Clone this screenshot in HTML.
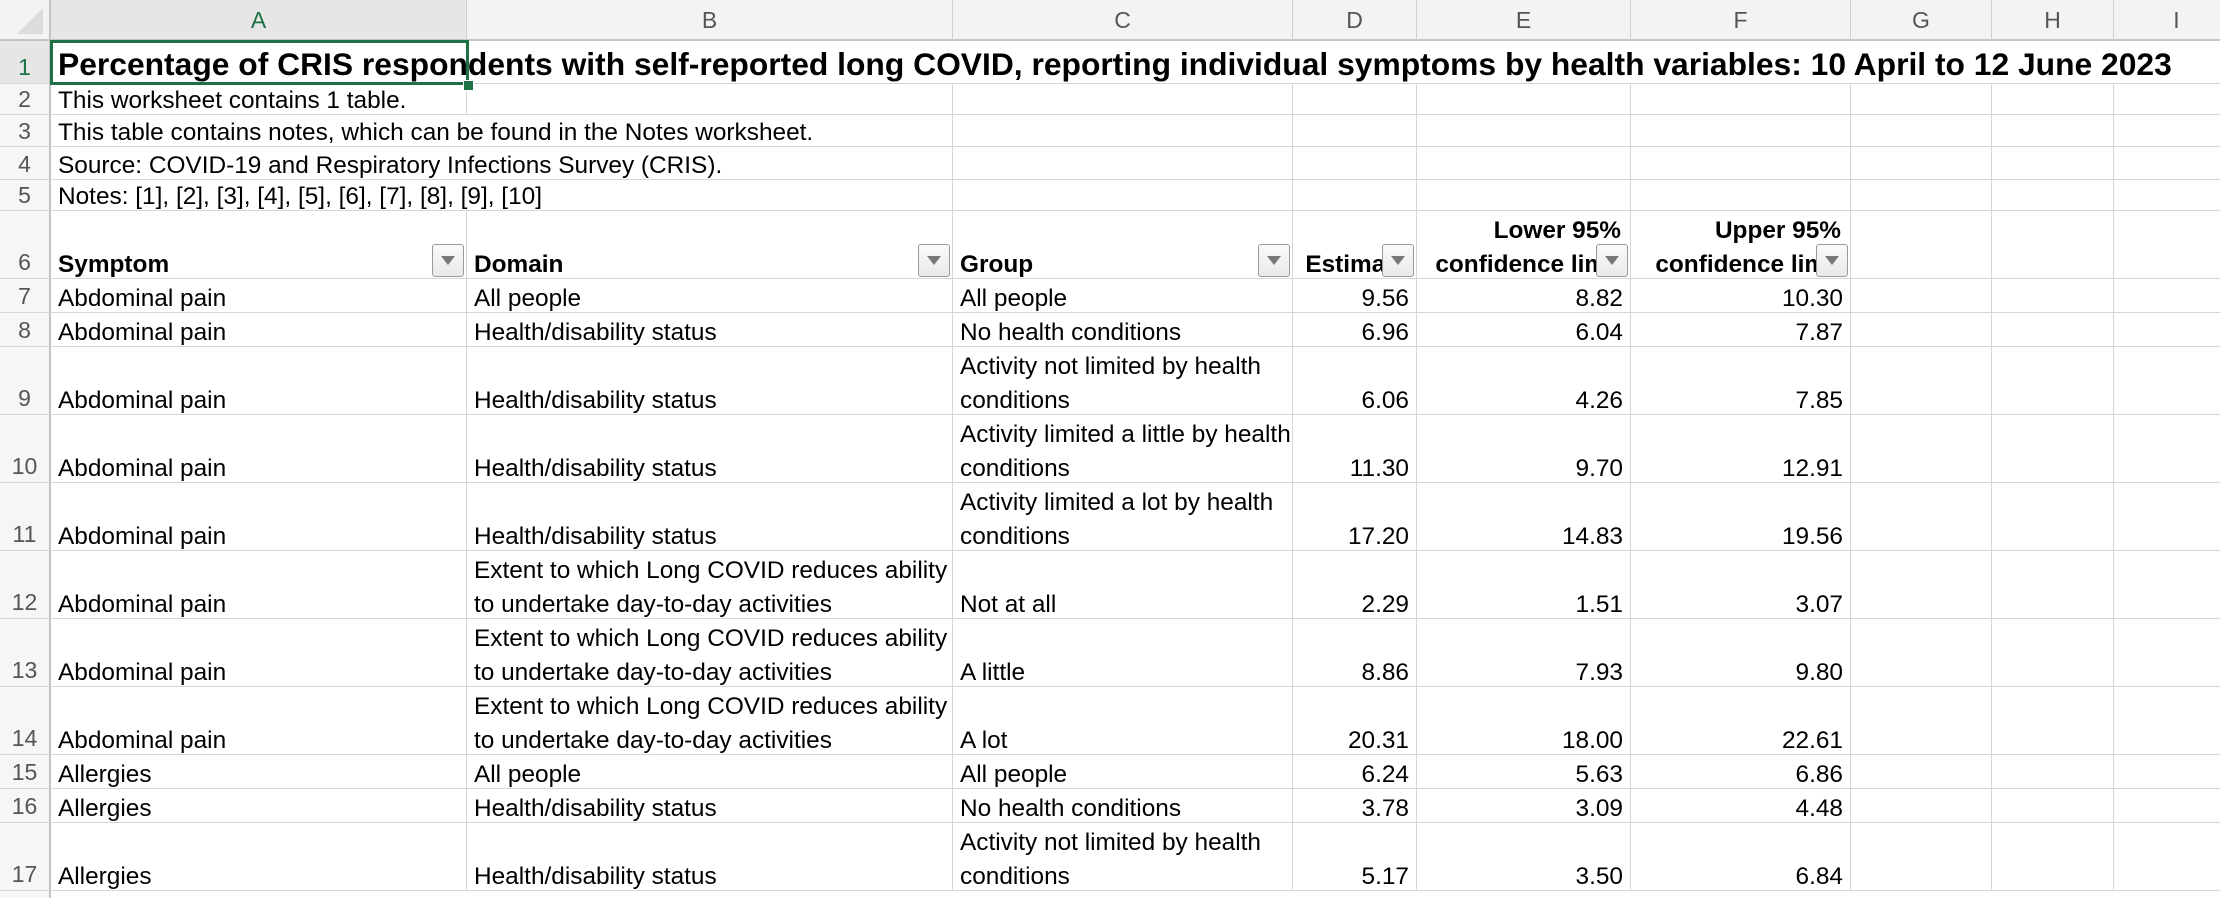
<!DOCTYPE html>
<html><head><meta charset="utf-8">
<style>
html,body{margin:0;padding:0;width:2220px;height:898px;overflow:hidden;background:#fff;font-family:"Liberation Sans",Arial,sans-serif;}
#sheet{position:relative;width:2220px;height:898px;overflow:hidden;}
.c{position:absolute;box-sizing:border-box;border-right:1px solid #d6d6d6;border-bottom:1px solid #d6d6d6;font-size:24.4px;color:#000;overflow:visible;white-space:nowrap;display:flex;flex-direction:column;justify-content:flex-end;padding:0 7px 0 7px;line-height:34px;}
.c>div{position:relative;top:4px;}
.r{align-items:flex-end;text-align:right;}
.b{font-weight:bold;}
.ch{position:absolute;top:0;height:41px;box-sizing:border-box;background:#f3f3f3;border-right:1px solid #d0d0d0;border-bottom:2px solid #c4c4c4;font-size:23px;color:#555;text-align:center;line-height:40px;}
.rh{position:absolute;left:0;width:51px;box-sizing:border-box;background:#f6f6f6;border-right:2px solid #c4c4c4;border-bottom:1px solid #d6d6d6;font-size:23px;color:#555;text-align:center;display:flex;flex-direction:column;justify-content:flex-end;padding-bottom:1px;line-height:30px;}
.fb{position:absolute;width:32px;height:33px;box-sizing:border-box;border:1px solid #9a9a9a;border-radius:3px;background:linear-gradient(#fafafa,#e9e9e9);}
.fb:after{content:"";position:absolute;left:8px;top:11px;border-left:7px solid transparent;border-right:7px solid transparent;border-top:9px solid #777;}
</style></head>
<body>
<div id="sheet"></div>
<script>
const colLetters=["A","B","C","D","E","F","G","H","I"];
const symptoms=["Abdominal pain","Abdominal pain","Abdominal pain","Abdominal pain","Abdominal pain","Abdominal pain","Abdominal pain","Abdominal pain","Allergies","Allergies","Allergies"];
const domains=["All people","Health/disability status","Health/disability status","Health/disability status","Health/disability status","Extent to which Long COVID reduces ability|to undertake day-to-day activities","Extent to which Long COVID reduces ability|to undertake day-to-day activities","Extent to which Long COVID reduces ability|to undertake day-to-day activities","All people","Health/disability status","Health/disability status"];
const groups=["All people","No health conditions","Activity not limited by health|conditions","Activity limited a little by health|conditions","Activity limited a lot by health|conditions","Not at all","A little","A lot","All people","No health conditions","Activity not limited by health|conditions"];
const estimates=["9.56","6.96","6.06","11.30","17.20","2.29","8.86","20.31","6.24","3.78","5.17"];
const lowerCI=["8.82","6.04","4.26","9.70","14.83","1.51","7.93","18.00","5.63","3.09","3.50"];
const upperCI=["10.30","7.87","7.85","12.91","19.56","3.07","9.80","22.61","6.86","4.48","6.84"];

const colX=[51,467,953,1293,1417,1631,1851,1992,2114,2240];
const rowY=[41,84,115,147,180,211,279,313,347,415,483,551,619,687,755,789,823,891,925];
const S=document.getElementById('sheet');

function cell(x1,x2,y1,y2,html,cls){
  const d=document.createElement('div');
  d.className='c '+(cls||'');
  d.style.left=x1+'px';d.style.width=(x2-x1)+'px';
  d.style.top=y1+'px';d.style.height=(y2-y1)+'px';
  d.innerHTML=html;
  S.appendChild(d);return d;
}
function lines(t){return t.split('|').map(s=>'<div>'+s+'</div>').join('');}

const corner=document.createElement('div');


corner.style.cssText='position:absolute;left:0;top:0;width:51px;height:41px;box-sizing:border-box;background:#f3f3f3;border-right:2px solid #c4c4c4;border-bottom:2px solid #c4c4c4;';
corner.innerHTML='<div style="position:absolute;right:6px;bottom:5px;width:0;height:0;border-left:26px solid transparent;border-bottom:26px solid #dcdcdc"></div>';
S.appendChild(corner);

for(let i=0;i<colLetters.length;i++){
  const h=document.createElement('div');
  h.className='ch';
  h.style.left=colX[i]+'px';h.style.width=(colX[i+1]-colX[i])+'px';
  h.textContent=colLetters[i];
  if(i===0){h.style.color='#1e7145';h.style.background='#e6e6e6';}
  
  
  S.appendChild(h);
}
for(let r=0;r<rowY.length-1;r++){
  const h=document.createElement('div');
  h.className='rh';
  h.style.top=rowY[r]+'px';h.style.height=(rowY[r+1]-rowY[r])+'px';
  h.textContent=(r<17)?String(r+1):'';
  if(r===0){h.style.color='#1e7145';h.style.background='#e6e6e6';}
  if(r>=1&&r<=4){h.style.paddingBottom='0px';}
  
  
  S.appendChild(h);
}

let t=cell(colX[0],colX[9],rowY[0],rowY[1],'<div>Percentage of CRIS respondents with self-reported long COVID, reporting individual symptoms by health variables: 10 April to 12 June 2023</div>','b');
t.style.fontSize='31.8px';t.style.paddingBottom='6px';t.style.borderRight='none';


const notes=["This worksheet contains 1 table.","This table contains notes, which can be found in the Notes worksheet.","Source: COVID-19 and Respiratory Infections Survey (CRIS).","Notes: [1], [2], [3], [4], [5], [6], [7], [8], [9], [10]"];
for(let k=0;k<4;k++){
  const r=k+1;
  const span=(k===0)?1:2;
  const n=cell(colX[0],colX[span],rowY[r],rowY[r+1],'<div>'+notes[k]+'</div>');
  n.style.lineHeight='30px';n.style.paddingBottom='2px';
  
  
  for(let c=span;c<9;c++){
    const e=cell(colX[c],colX[c+1],rowY[r],rowY[r+1],'');
    
    
  }
}
const heads=["Symptom","Domain","Group","Estimate","Lower 95%|confidence limit","Upper 95%|confidence limit"];
for(let c=0;c<9;c++){
  let html=c<6?lines(heads[c]):'';
  const h=cell(colX[c],colX[c+1],rowY[5],rowY[6],html,'b'+(c>=3?' r':''));
  h.style.overflow='hidden';
  h.style.paddingRight=(c>=3?'9px':'7px');
  
  
  if(c<6){
    const f=document.createElement('div');
    f.className='fb';
    f.style.left=(colX[c+1]-35)+'px';f.style.top='244px';
    
    
    S.appendChild(f);
  }
}
for(let i=0;i<symptoms.length;i++){
  const y1=rowY[6+i],y2=rowY[7+i];
  const vals=[symptoms[i],domains[i],groups[i],estimates[i],lowerCI[i],upperCI[i]];
  const names=['symptom-cell','domain-cell','group-cell','estimate-cell','lower-ci-cell','upper-ci-cell'];
  for(let c=0;c<9;c++){
    const d=cell(colX[c],colX[c+1],y1,y2,c<6?lines(vals[c]):'',c>=3&&c<6?'r':'');
    
    
  }
}
const sel=document.createElement('div');
sel.style.cssText='position:absolute;left:50px;top:40px;width:419px;height:45px;box-sizing:border-box;border:3px solid #1e7145;';


S.appendChild(sel);
const hd=document.createElement('div');
hd.style.cssText='position:absolute;left:463px;top:80px;width:9px;height:9px;background:#1e7145;border:1px solid #fff;';


S.appendChild(hd);
</script>
</body></html>
